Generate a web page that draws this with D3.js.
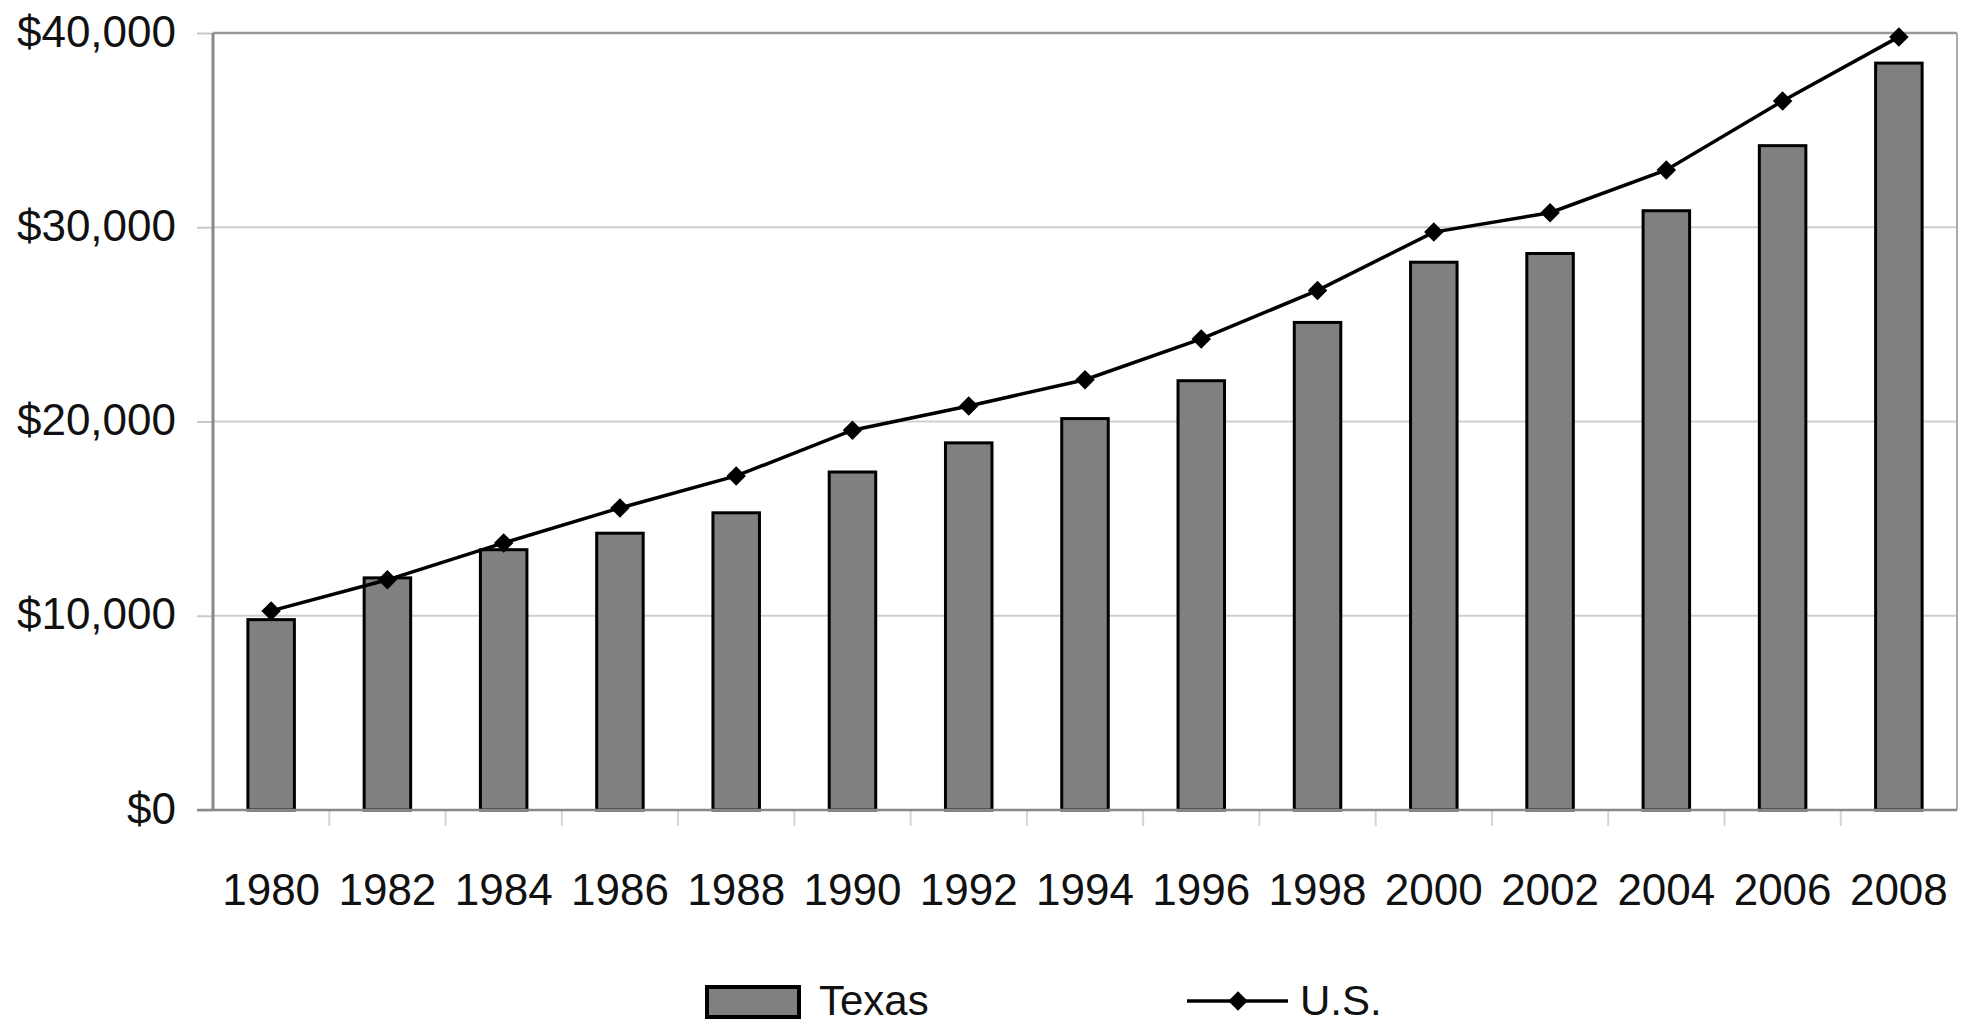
<!DOCTYPE html>
<html>
<head>
<meta charset="utf-8">
<script src="https://cdn.jsdelivr.net/npm/d3@7"></script>
<style>
  html, body { margin: 0; padding: 0; background: #fff; }
  svg { display: block; }
  text { font-family: "Liberation Sans", Arial, sans-serif; fill: #111; }
</style>
</head>
<body>
<svg id="chart" width="1970" height="1028"></svg>
<script>
const years = ["1980","1982","1984","1986","1988","1990","1992","1994","1996","1998","2000","2002","2004","2006","2008"];
const texas = [9800, 11950, 13400, 14250, 15300, 17400, 18900, 20150, 22100, 25100, 28200, 28650, 30850, 34200, 38450];
const us    = [10250, 11850, 13750, 15550, 17200, 19550, 20800, 22150, 24250, 26750, 29750, 30750, 32950, 36500, 39800];
const yTicks = [0, 10000, 20000, 30000, 40000];
const seriesNames = ["Texas", "U.S."];

const svg = d3.select("#chart");
const pL = 213, pR = 1957, pT = 33, pB = 810;

const x = d3.scaleBand().domain(years).range([pL, pR]).paddingInner(0.6).paddingOuter(0.3);
const y = d3.scaleLinear().domain([0, 40000]).range([pB, pT]);
const fmt = v => "$" + d3.format(",")(v);

// gridlines + y ticks
const yAxis = d3.axisLeft(y).tickValues(yTicks).tickFormat(fmt).tickSize(16).tickPadding(21);
const gy = svg.append("g").attr("transform", `translate(${pL},0)`).call(yAxis);
gy.select(".domain").remove();
gy.selectAll(".tick line").attr("stroke", "#c8c8c8").attr("stroke-width", 2);
gy.selectAll(".tick text").attr("font-size", 44).attr("fill", "#111").attr("dy", "0.3em")
  .attr("font-family", "'Liberation Sans', Arial, sans-serif");

svg.append("g").selectAll("line").data(yTicks.filter(d => d > 0)).join("line")
  .attr("x1", pL).attr("x2", pR)
  .attr("y1", d => y(d)).attr("y2", d => y(d))
  .attr("stroke", "#cfcfcf").attr("stroke-width", 2);

// x axis
const xAxis = d3.axisBottom(x).tickSize(0).tickPadding(64);
const gx = svg.append("g").attr("transform", `translate(0,${pB})`).call(xAxis);
gx.select(".domain").remove();
gx.selectAll(".tick text").attr("font-size", 44).attr("fill", "#111")
  .attr("font-family", "'Liberation Sans', Arial, sans-serif");

// category boundary ticks
const step = x.step();
svg.append("g").selectAll("line").data(years.slice(1)).join("line")
  .attr("x1", d => x(d) - (step - x.bandwidth()) / 2)
  .attr("x2", d => x(d) - (step - x.bandwidth()) / 2)
  .attr("y1", pB).attr("y2", pB + 16)
  .attr("stroke", "#d4d4d4").attr("stroke-width", 2);

// plot frame
svg.append("line").attr("x1", pL).attr("x2", pR).attr("y1", pT).attr("y2", pT)
  .attr("stroke", "#999").attr("stroke-width", 2.5);
svg.append("line").attr("x1", pR).attr("x2", pR).attr("y1", pT).attr("y2", pB)
  .attr("stroke", "#aaa").attr("stroke-width", 2);
svg.append("line").attr("x1", pL).attr("x2", pL).attr("y1", pT).attr("y2", pB)
  .attr("stroke", "#888").attr("stroke-width", 3);

// bars
svg.append("g").selectAll("rect").data(years).join("rect")
  .attr("x", d => x(d))
  .attr("y", (d, i) => y(texas[i]))
  .attr("width", x.bandwidth())
  .attr("height", (d, i) => pB - y(texas[i]))
  .attr("fill", "#808080").attr("stroke", "#000").attr("stroke-width", 3);

// bottom axis line
svg.append("line").attr("x1", pL - 16).attr("x2", pR).attr("y1", pB).attr("y2", pB)
  .attr("stroke", "#888").attr("stroke-width", 2.5);

// US line
const cx = d => x(d) + x.bandwidth() / 2;
const line = d3.line().x((d, i) => cx(years[i])).y(d => y(d));
svg.append("path").datum(us).attr("d", line)
  .attr("fill", "none").attr("stroke", "#000").attr("stroke-width", 3.5);

const diamond = d3.symbol().type(d3.symbolSquare).size(190);
svg.append("g").selectAll("path").data(us).join("path")
  .attr("d", diamond)
  .attr("transform", (d, i) => `translate(${cx(years[i])},${y(d)}) rotate(45)`)
  .attr("fill", "#000");

// legend
const lg = svg.append("g");
lg.append("rect").attr("x", 707).attr("y", 987).attr("width", 92).attr("height", 30)
  .attr("fill", "#808080").attr("stroke", "#000").attr("stroke-width", 4);
lg.append("text").attr("x", 819).attr("y", 1015).attr("font-size", 42).text(seriesNames[0]);
lg.append("line").attr("x1", 1187).attr("x2", 1288).attr("y1", 1001).attr("y2", 1001)
  .attr("stroke", "#000").attr("stroke-width", 3.5);
lg.append("path").attr("d", diamond).attr("transform", "translate(1238,1001) rotate(45)").attr("fill", "#000");
lg.append("text").attr("x", 1300).attr("y", 1015).attr("font-size", 42).text(seriesNames[1]);
</script>
</body>
</html>
